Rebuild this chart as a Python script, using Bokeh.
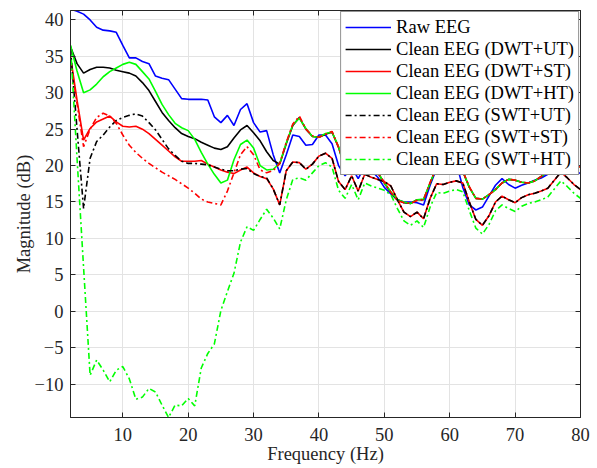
from bokeh.plotting import figure
from bokeh.models import Range1d, LinearAxis, FixedTicker, CustomJSTickFormatter
from bokeh.embed import file_html
from bokeh.resources import INLINE

# Frequency samples (Hz)
freq = [2, 3, 4, 5, 6, 7, 8, 9, 10, 11, 12, 13, 14, 15, 16, 17, 18, 19, 20,
        21, 22, 23, 24, 25, 26, 27, 28, 29, 30, 31, 32, 33, 34, 35, 36, 37, 38,
        39, 40, 41, 42, 43, 44, 45, 46, 47, 48, 49, 50, 51, 52, 53, 54, 55, 56,
        57, 58, 59, 60, 61, 62, 63, 64, 65, 66, 67, 68, 69, 70, 71, 72, 73, 74,
        75, 76, 77, 78, 79, 80]

raw_eeg = [41.5, 41.2, 40.8, 40.0, 39.0, 38.6, 38.5, 38.3, 36.5, 34.8, 34.8, 34.3,
           34.0, 32.3, 32.0, 31.8, 30.5, 29.2, 29.1, 29.1, 29.1, 29.0, 26.7, 25.9,
           26.9, 25.5, 27.7, 28.5, 25.9, 24.6, 24.8, 21.5, 19.0, 21.5, 24.2, 24.0,
           22.8, 22.9, 24.2, 24.2, 23.0, 20.0, 18.6, 19.8, 18.2, 19.9, 19.3, 18.4,
           17.0, 16.1, 15.3, 15.0, 15.0, 14.9, 14.6, 17.3, 19.6, 20.6, 21.0, 20.4,
           17.0, 14.6, 13.9, 14.3, 15.8, 17.3, 18.2, 17.4, 16.9, 17.3, 17.6, 18.0,
           18.3, 18.8, 19.3, 20.5, 20.0, 19.4, 18.9]

dwt_ut = [36.3, 34.0, 32.7, 33.2, 33.5, 33.5, 33.4, 33.1, 32.9, 32.7, 32.3, 31.4,
          30.3, 28.8, 27.3, 26.2, 25.2, 24.4, 24.0, 23.7, 23.2, 22.8, 22.4, 22.2,
          22.6, 23.8, 24.9, 25.5, 24.5, 23.4, 21.9, 20.7, 20.2, 23.0, 25.5, 26.6,
          25.0, 24.0, 23.9, 24.3, 24.6, 22.5, 19.5, 20.8, 19.0, 21.0, 20.5, 19.0,
          17.6, 16.3, 15.3, 14.9, 14.8, 15.3, 15.3, 17.6, 19.8, 20.6, 21.0, 20.7,
          19.2, 17.0, 15.5, 15.4, 16.0, 16.7, 17.6, 18.1, 18.0, 17.7, 17.6, 17.9,
          18.5, 19.2, 20.2, 21.0, 20.5, 20.0, 19.8]

dwt_st = [35.0, 29.0, 23.5, 25.1, 26.0, 26.4, 26.8, 26.0, 25.4, 25.3, 25.4, 25.0,
          24.4, 23.6, 22.8, 22.0, 21.2, 20.6, 20.6, 20.6, 20.7, 20.2, 19.8, 19.4,
          19.1, 18.9, 19.4, 19.8, 19.0, 18.5, 18.2, 16.8, 14.6, 19.3, 20.5, 20.4,
          19.5, 20.2, 21.3, 21.7, 21.0, 17.8, 16.7, 18.6, 16.5, 18.8, 18.4, 18.1,
          17.8, 17.2, 15.3, 13.6, 13.0, 13.6, 12.7, 15.5, 17.5, 17.4, 17.7, 17.9,
          17.6, 15.0, 12.6, 11.8, 13.1, 15.0, 15.8, 15.3, 14.9, 15.6, 16.0, 16.2,
          16.5, 16.9, 18.0, 19.1, 18.3, 17.4, 16.7]

dwt_ht = [36.5, 33.0, 30.0, 30.4, 31.2, 32.2, 32.9, 33.4, 33.9, 34.2, 33.9, 32.9,
          31.9, 30.2, 28.4, 27.0, 25.8, 25.2, 24.8, 23.6, 21.8, 20.2, 18.8, 17.6,
          18.0, 20.8, 22.9, 23.5, 22.4, 20.0, 19.4, 19.5, 20.3, 23.1, 25.6, 26.5,
          25.1, 24.0, 23.9, 24.4, 24.6, 22.6, 19.5, 20.9, 19.1, 21.0, 20.5, 19.1,
          17.6, 16.4, 15.3, 15.0, 14.8, 15.3, 15.4, 17.6, 19.8, 20.6, 21.0, 20.7,
          19.2, 17.0, 15.5, 15.4, 16.0, 16.7, 17.6, 18.1, 18.0, 17.7, 17.6, 17.9,
          18.5, 19.2, 20.2, 21.0, 20.5, 20.0, 19.8]

swt_ut = [36.0, 25.0, 14.1, 21.0, 23.3, 24.2, 25.3, 26.2, 26.6, 26.9, 27.1, 26.8,
          25.9, 24.9, 23.6, 22.3, 21.4, 20.6, 20.3, 20.3, 20.2, 20.1, 19.8, 19.5,
          19.3, 19.3, 19.5, 19.6, 18.9, 18.5, 18.3, 16.8, 14.6, 19.3, 20.5, 20.4,
          19.5, 20.2, 21.3, 21.7, 21.0, 17.8, 16.7, 18.6, 16.5, 18.8, 18.4, 18.1,
          17.8, 17.2, 15.3, 13.6, 13.0, 13.6, 12.7, 15.5, 17.5, 17.4, 17.7, 17.9,
          17.6, 15.0, 12.6, 11.8, 13.1, 15.0, 15.8, 15.3, 14.9, 15.6, 16.0, 16.2,
          16.5, 16.9, 18.0, 19.1, 18.3, 17.4, 16.7]

swt_st = [34.5, 28.5, 22.6, 25.0, 26.6, 27.2, 26.8, 25.8, 24.2, 22.8, 21.8, 21.0,
          20.3, 19.7, 19.1, 18.6, 18.1, 17.5, 16.9, 16.2, 15.4, 15.0, 14.8, 14.6,
          16.5, 19.0, 21.5, 22.6, 21.5, 19.4, 19.0, 19.3, 20.3, 23.2, 25.7, 26.8,
          25.0, 24.1, 23.9, 24.3, 24.7, 22.5, 19.6, 20.8, 19.0, 21.1, 20.5, 19.0,
          17.7, 16.3, 15.2, 14.9, 14.8, 15.2, 15.3, 17.7, 19.8, 20.6, 21.0, 20.6,
          19.2, 17.1, 15.5, 15.4, 16.0, 16.7, 17.6, 18.1, 18.0, 17.7, 17.6, 17.9,
          18.5, 19.2, 20.2, 21.0, 20.5, 20.0, 19.8]

swt_ht = [36.5, 21.0, 6.0, -8.8, -6.7, -8.1, -9.7, -8.1, -7.6, -9.3, -12.1, -11.8,
          -10.6, -11.1, -12.9, -14.6, -12.9, -13.0, -12.0, -13.0, -7.8, -5.8, -4.5, 0.1,
          2.7, 5.2, 9.5, 11.6, 11.1, 12.6, 14.0, 12.8, 11.3, 15.3, 18.1, 18.3,
          18.0, 19.0, 20.0, 20.4, 19.8, 16.6, 15.5, 17.4, 15.3, 17.6, 17.2, 16.9,
          16.6, 16.0, 14.1, 12.4, 11.8, 12.4, 11.5, 14.3, 16.3, 16.2, 16.5, 16.7,
          16.4, 13.8, 11.4, 10.6, 11.9, 13.8, 14.6, 14.1, 13.7, 14.4, 14.8, 15.0,
          15.3, 15.7, 16.8, 17.9, 17.1, 16.2, 15.5]

x_ticks = [10, 20, 30, 40, 50, 60, 70, 80]
y_ticks = [-10, -5, 0, 5, 10, 15, 20, 25, 30, 35, 40]

series = [
    (raw_eeg, "Raw EEG", "#0000ff", "solid"),
    (dwt_ut, "Clean EEG (DWT+UT)", "#000000", "solid"),
    (dwt_st, "Clean EEG (DWT+ST)", "#ff0000", "solid"),
    (dwt_ht, "Clean EEG (DWT+HT)", "#00ff00", "solid"),
    (swt_ut, "Clean EEG (SWT+UT)", "#000000", "6 3 2 3"),
    (swt_st, "Clean EEG (SWT+ST)", "#ff0000", "6 3 2 3"),
    (swt_ht, "Clean EEG (SWT+HT)", "#00ff00", "6 3 2 3"),
]

FONT = "Liberation Serif"
TXT = "#262626"

p = figure(width=597, height=468, output_backend="svg", toolbar_location=None,
           x_range=Range1d(2, 80), y_range=Range1d(-14.6, 41.3),
           min_border_left=70, min_border_right=17, min_border_top=10,
           min_border_bottom=51)
p.background_fill_color = "white"
p.border_fill_color = "white"
p.outline_line_color = TXT
p.outline_line_width = 1

for ys, label, color, dash in series:
    p.line(freq, ys, line_color=color, line_width=1.6, line_dash=dash,
           legend_label=label)

for ax in (p.xaxis[0], p.yaxis[0]):
    ax.major_label_text_font = FONT
    ax.major_label_text_font_size = "18.5px"
    ax.major_label_text_color = TXT
    ax.axis_label_text_font = FONT
    ax.axis_label_text_font_size = "18.5px"
    ax.axis_label_text_font_style = "normal"
    ax.axis_label_text_color = TXT
    ax.axis_line_color = TXT
    ax.major_tick_line_color = TXT
    ax.major_tick_in = 5
    ax.major_tick_out = 0
    ax.minor_tick_line_color = None

p.xaxis[0].ticker = FixedTicker(ticks=x_ticks)
p.yaxis[0].ticker = FixedTicker(ticks=y_ticks)
p.xaxis[0].axis_label = "Frequency (Hz)"
p.yaxis[0].axis_label = "Magnitude (dB)"
p.xaxis[0].major_label_standoff = 10
p.xaxis[0].axis_label_standoff = 0
p.yaxis[0].major_label_standoff = 7
p.yaxis[0].axis_label_standoff = -2

blank = CustomJSTickFormatter(code="return ''")
top_ax = LinearAxis(ticker=FixedTicker(ticks=x_ticks), formatter=blank,
                    major_tick_in=5, major_tick_out=0, major_label_standoff=0,
                    axis_line_color=TXT, major_tick_line_color=TXT,
                    minor_tick_line_color=None)
right_ax = LinearAxis(ticker=FixedTicker(ticks=y_ticks), formatter=blank,
                      major_tick_in=5, major_tick_out=0, major_label_standoff=0,
                      axis_line_color=TXT, major_tick_line_color=TXT,
                      minor_tick_line_color=None)
p.add_layout(top_ax, "above")
p.add_layout(right_ax, "right")

p.xgrid.ticker = FixedTicker(ticks=x_ticks)
p.ygrid.ticker = FixedTicker(ticks=y_ticks)
p.xgrid.grid_line_color = "#e3e3e3"
p.ygrid.grid_line_color = "#e3e3e3"

lg = p.legend[0]
lg.location = "top_right"
lg.margin = 1
lg.padding = 4
lg.spacing = 0
lg.glyph_width = 46
lg.glyph_height = 22
lg.label_height = 22
lg.label_standoff = 5
lg.label_text_font = FONT
lg.label_text_font_size = "18.5px"
lg.label_text_color = "#000000"
lg.border_line_color = TXT
lg.border_line_width = 1
lg.background_fill_color = "white"
lg.background_fill_alpha = 1.0

open("out.html", "w").write(file_html(p, INLINE))
